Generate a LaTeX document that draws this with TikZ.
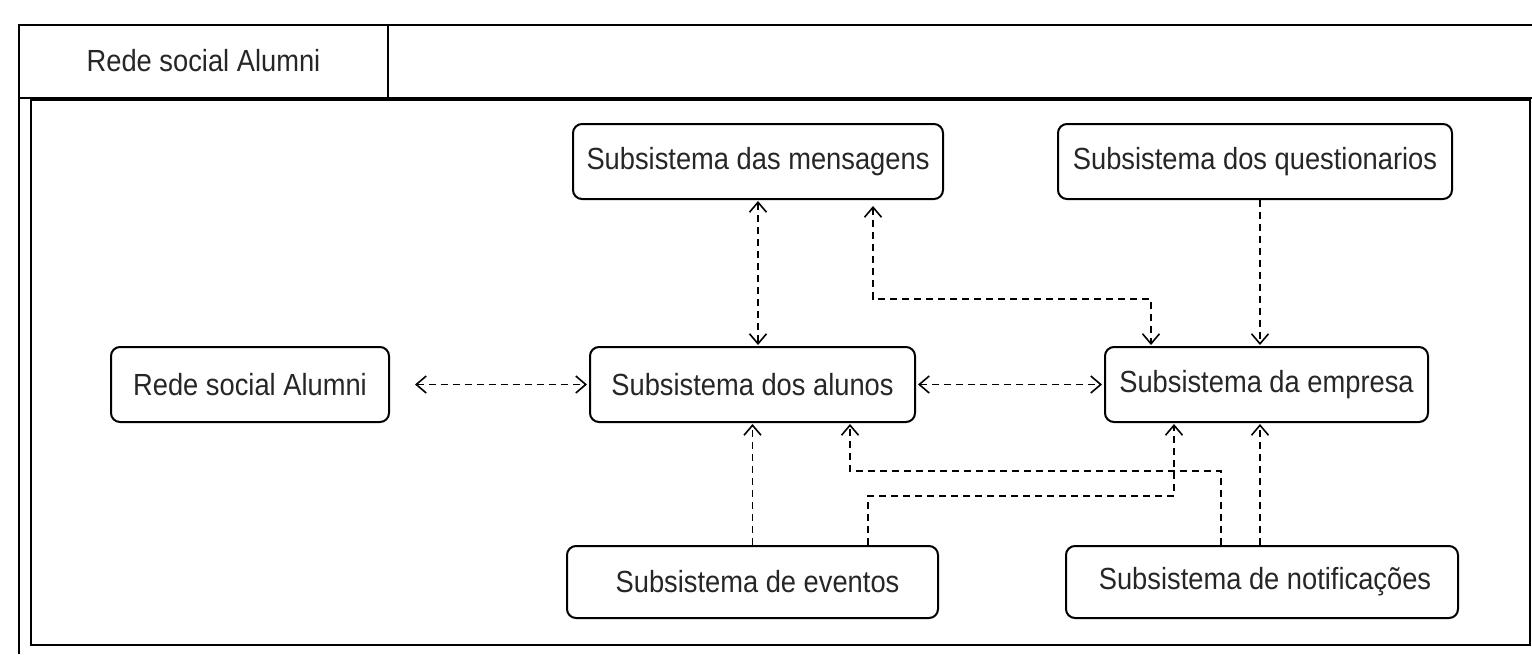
\documentclass[tikz,border=0pt]{standalone}
\usepackage{fontspec}
\setmainfont{Liberation Sans}
\usetikzlibrary{arrows.meta,calc}
\newcommand{\tallt}[1]{\scalebox{1}[1.12]{#1}}
\tikzset{
  box/.style={draw=black, line width=2pt, rounded corners=9pt, inner sep=0pt, font=\fontsize{27.3}{32}\selectfont, text=black!85},
  conn/.style={draw=black, line width=1.8pt, dash pattern=on 7pt off 5pt},
  tip/.style={arrows={-Straight Barb[length=10pt,width=17pt,line width=1.6pt]}},
  tipboth/.style={arrows={Straight Barb[length=10pt,width=17pt,line width=1.6pt]-Straight Barb[length=10pt,width=17pt,line width=1.6pt]}},
  frame/.style={draw=black, line width=2pt}
}
\begin{document}
\begin{tikzpicture}[x=1pt,y=-1pt]
\useasboundingbox (0,0) rectangle (1532,654);
% frame
\draw[frame] (19,654) -- (19,25) -- (1532,25);
\draw[frame] (388,25) -- (388,98);
\draw[frame] (19,98) -- (1532,98);
\draw[frame] (31,100) rectangle (1530,645);
\node[font=\fontsize{27.3}{32}\selectfont, text=black!85] (title) at (203.5,61) {\tallt{Rede social Alumni}};
% nodes
\node[box, minimum width=278pt, minimum height=75pt] (rede) at (250,384.5) {\tallt{Rede social Alumni}};
\node[box, minimum width=325pt, minimum height=75pt] (alunos) at (752.5,384.5) {\tallt{Subsistema dos alunos}};
\node[box, minimum width=323pt, minimum height=75pt] (empresa) at (1266.5,384.5) {\tallt{Subsistema da empresa}};
\node[box, minimum width=370pt, minimum height=75pt] (mensagens) at (758,161.5) {\tallt{Subsistema das mensagens}};
\node[box, minimum width=394pt, minimum height=75pt] (quest) at (1255,161.5) {\tallt{Subsistema dos questionarios}};
\node[box, minimum width=371pt, minimum height=72pt] (eventos) at (752.5,582) {\hspace{10pt}\tallt{Subsistema de eventos}};
\node[box, minimum width=392pt, minimum height=72pt] (notif) at (1262,582) {\hspace{6pt}\tallt{Subsistema de notificações}};
% connectors
\draw[conn, tipboth, shorten <=25pt, shorten >=2pt] (rede) -- (alunos);
\draw[conn, tipboth, shorten <=2pt, shorten >=2pt] (alunos) -- (empresa);
\draw[conn, tipboth, shorten <=1pt, shorten >=1pt] (mensagens.south) -- (mensagens.south |- alunos.north);
\draw[conn, tipboth, shorten <=6pt, shorten >=1pt] ([xshift=115pt]mensagens.south) -- ++(0,99) -| ([xshift=-115.5pt]empresa.north);
\draw[conn, tip, shorten >=1pt] ([xshift=5pt]quest.south) -- ([xshift=5pt]quest.south |- empresa.north);
\draw[conn, tip, shorten >=1pt] (eventos.north) -- (eventos.north |- alunos.south);
\draw[conn, tip, shorten >=1pt] ([xshift=-41pt]notif.north) -- ++(0,-74) -| ([xshift=97.5pt]alunos.south);
\draw[conn, tip, shorten >=1pt] ([xshift=115.5pt]eventos.north) -- ++(0,-49) -| ([xshift=-92.5pt]empresa.south);
\draw[conn, tip, shorten >=1pt] ([xshift=-2pt]notif.north) -- ([xshift=-2pt]notif.north |- empresa.south);
\end{tikzpicture}
\end{document}
